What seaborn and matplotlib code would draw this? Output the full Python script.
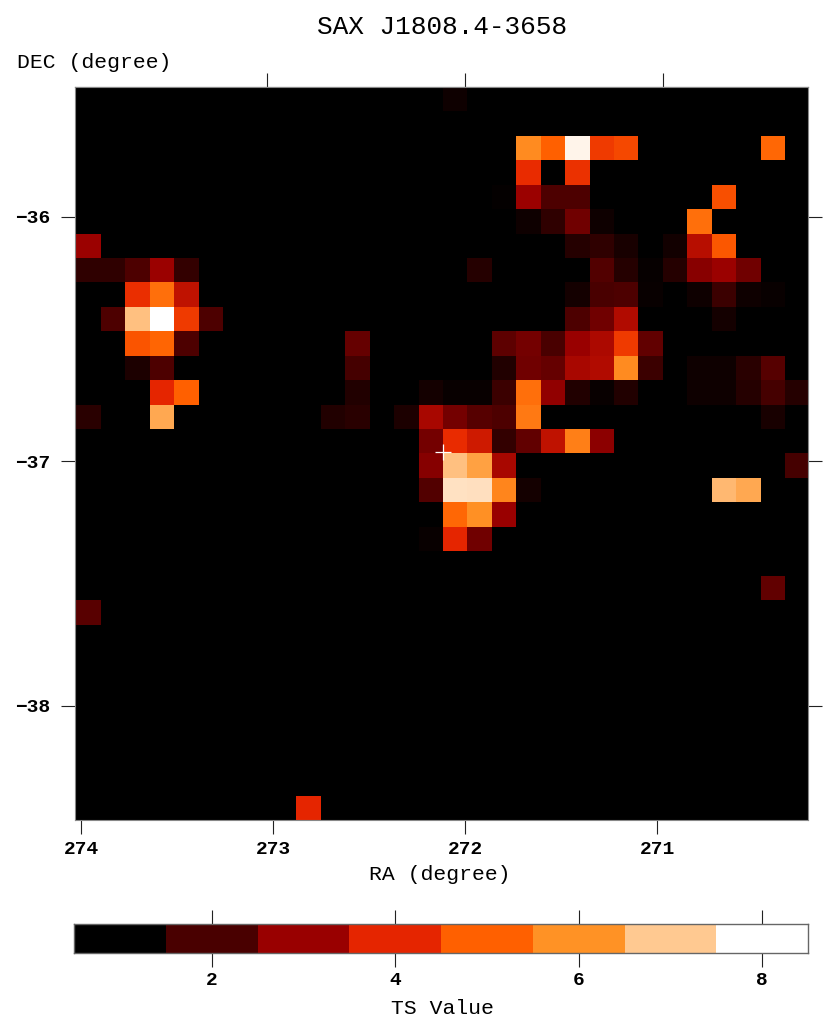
import numpy as np
import pandas as pd
import matplotlib
matplotlib.use('Agg')
import matplotlib.pyplot as plt
from matplotlib.colors import LinearSegmentedColormap
import seaborn as sns

title = 'SAX J1808.4-3658'
n_pix = 30

# TS map, only the pixels above the background: (row from top, column from left, TS)
background_ts = 1.0
hot_pixels = [
    (0, 15, 1.2),
    (2, 18, 5.85), (2, 19, 5.0), (2, 20, 7.8), (2, 21, 4.35), (2, 22, 4.6), (2, 28, 5.15),
    (3, 18, 4.1), (3, 20, 4.2),
    (4, 17, 1.08), (4, 18, 3.05), (4, 19, 2.05), (4, 20, 2.05), (4, 26, 4.7),
    (5, 18, 1.2), (5, 19, 1.65), (5, 20, 2.5), (5, 21, 1.2), (5, 25, 5.3),
    (6, 0, 3.05), (6, 20, 1.5), (6, 21, 1.65), (6, 22, 1.35), (6, 24, 1.25), (6, 25, 3.4), (6, 26, 4.85),
    (7, 0, 1.65), (7, 1, 1.65), (7, 2, 2.05), (7, 3, 3.05), (7, 4, 1.7), (7, 16, 1.5), (7, 21, 2.1),
    (7, 22, 1.5), (7, 23, 1.1), (7, 24, 1.5), (7, 25, 2.8), (7, 26, 3.05), (7, 27, 2.5),
    (8, 2, 4.15), (8, 3, 5.3), (8, 4, 3.5), (8, 20, 1.3), (8, 21, 2.0), (8, 22, 2.05), (8, 23, 1.12),
    (8, 25, 1.2), (8, 26, 1.8), (8, 27, 1.2), (8, 28, 1.12),
    (9, 1, 2.05), (9, 2, 6.85), (9, 3, 8.0), (9, 4, 4.35), (9, 5, 2.05), (9, 20, 2.05), (9, 21, 2.5),
    (9, 22, 3.3), (9, 26, 1.3),
    (10, 2, 4.8), (10, 3, 5.1), (10, 4, 2.05), (10, 11, 2.35), (10, 17, 2.25), (10, 18, 2.55),
    (10, 19, 2.0), (10, 20, 3.0), (10, 21, 3.25), (10, 22, 4.35), (10, 23, 2.3),
    (11, 2, 1.4), (11, 3, 2.05), (11, 11, 1.95), (11, 17, 1.45), (11, 18, 2.5), (11, 19, 2.35),
    (11, 20, 3.2), (11, 21, 3.3), (11, 22, 5.85), (11, 23, 1.8), (11, 25, 1.2), (11, 26, 1.2),
    (11, 27, 1.55), (11, 28, 2.15),
    (12, 3, 4.0), (12, 4, 5.0), (12, 11, 1.45), (12, 14, 1.3), (12, 15, 1.12), (12, 16, 1.12),
    (12, 17, 1.8), (12, 18, 5.3), (12, 19, 2.9), (12, 20, 1.45), (12, 21, 1.12), (12, 22, 1.45),
    (12, 25, 1.2), (12, 26, 1.2), (12, 27, 1.5), (12, 28, 1.95), (12, 29, 1.5),
    (13, 0, 1.55), (13, 3, 6.4), (13, 10, 1.45), (13, 11, 1.55), (13, 13, 1.4), (13, 14, 3.2),
    (13, 15, 2.55), (13, 16, 2.15), (13, 17, 2.05), (13, 18, 5.5), (13, 28, 1.35),
    (14, 14, 2.55), (14, 15, 4.1), (14, 16, 3.7), (14, 17, 1.7), (14, 18, 2.3), (14, 19, 3.5),
    (14, 20, 5.6), (14, 21, 2.85),
    (15, 14, 2.75), (15, 15, 6.85), (15, 16, 6.25), (15, 17, 3.2), (15, 29, 1.95),
    (16, 14, 2.1), (16, 15, 7.45), (16, 16, 7.4), (16, 17, 5.75), (16, 18, 1.3), (16, 26, 6.7), (16, 27, 6.4),
    (17, 15, 5.15), (17, 16, 5.95), (17, 17, 3.0),
    (18, 14, 1.12), (18, 15, 4.0), (18, 16, 2.5),
    (20, 28, 2.3),
    (21, 0, 2.2),
    (29, 9, 4.0),
]

# Colour table
ts_levels = [1, 2, 3, 4, 5, 6, 7, 8]
level_colors = ['#000000', '#4a0000', '#990000', '#e62500', '#ff6000', '#ff9225', '#ffc890', '#ffffff']

ra_ticks_bottom = [274, 273, 272, 271]
ra_ticks_top = [273, 272, 271]
dec_ticks = [-36, -37, -38]
cbar_ticks = [2, 4, 6, 8]
source_ra = 272.115
source_dec = -36.96

W, H = 830, 1032
plt.rcParams['font.family'] = ['Liberation Mono', 'DejaVu Sans Mono']

cmap = LinearSegmentedColormap.from_list(
    'ts', [((v - 1) / 7, c) for v, c in zip(ts_levels, level_colors)])

# the pixels sit a little right of the frame's left edge
x_shift = 0.06


def place(x0, y0, x1, y1):
    # pixel box (from top left) to figure fractions
    return [x0 / W, 1 - y1 / H, (x1 - x0) / W, (y1 - y0) / H]


def ra_bottom(ra):
    return 0.25 - x_shift + (274 - ra) * 7.86


def ra_top(ra):
    return 15.95 - x_shift + (272 - ra) * 8.1


def dec_pos(dec):
    return 5.32 + (-36 - dec) * 10


# Long table of the hot pixels -> full grid
df = pd.DataFrame(hot_pixels, columns=['row', 'col', 'ts'])
grid = df.pivot(index='row', columns='col', values='ts')
grid = grid.reindex(index=range(n_pix), columns=range(n_pix)).fillna(background_ts)

fig = plt.figure(figsize=(W / 100, H / 100), dpi=100)
ax = fig.add_axes(place(75, 87, 808, 820))
ax.set_facecolor('black')
sns.heatmap(grid, ax=ax, cmap=cmap, vmin=1, vmax=8, cbar=False,
            xticklabels=False, yticklabels=False, linewidths=0)
ax.set_xlim(-x_shift, n_pix - x_shift)

tick_style = dict(direction='out', length=10, width=0.8, color='#222222')
ax.set_xlabel('')
ax.set_ylabel('')
ax.set_xticks([ra_bottom(r) for r in ra_ticks_bottom])
ax.set_xticklabels([str(r) for r in ra_ticks_bottom], fontsize=14, fontweight='bold')
ax.set_yticks([dec_pos(d) for d in dec_ticks])
ax.set_yticklabels(['\u2212' + str(abs(d)) for d in dec_ticks], fontsize=14, fontweight='bold', rotation=0)
ax.tick_params(axis='x', pad=5, **tick_style)
ax.tick_params(axis='y', pad=8, right=True, **tick_style)

top = ax.secondary_xaxis('top')
top.set_xticks([ra_top(r) for r in ra_ticks_top])
top.set_xticklabels([])
top.tick_params(**tick_style)

for spine_ax in (ax, top):
    for s in spine_ax.spines.values():
        s.set_visible(True)
        s.set_color('#888888')
        s.set_linewidth(0.8)

# source position
ax.plot([ra_bottom(source_ra)], [dec_pos(source_dec)], marker='+', color='white',
        markersize=12, markeredgewidth=0.9)

fig.text(442 / W, 1 - 27 / H, title, ha='center', va='center', fontsize=18.8)
fig.text(17 / W, 1 - 63 / H, 'DEC (degree)', ha='left', va='center', fontsize=15.4)
fig.text(440 / W, 1 - 875 / H, 'RA (degree)', ha='center', va='center', fontsize=15.4)

# Colour bar, one cell per TS level
cax = fig.add_axes(place(74, 924, 808, 953))
sns.heatmap(np.array([ts_levels]), ax=cax, cmap=cmap, vmin=1, vmax=8, cbar=False,
            xticklabels=False, yticklabels=False, linewidths=0)
cax.set_xticks([t - 0.5 for t in cbar_ticks])
cax.set_xticklabels([str(t) for t in cbar_ticks], fontsize=14, fontweight='bold')
cax.set_yticks([])
cax.tick_params(axis='x', top=True, pad=4, **tick_style)
for s in cax.spines.values():
    s.set_visible(True)
    s.set_color('#666666')
    s.set_linewidth(1.0)
fig.text(442 / W, 1 - 1008 / H, 'TS Value', ha='center', va='center', fontsize=15.4)

fig.savefig('out.png', dpi=100)
